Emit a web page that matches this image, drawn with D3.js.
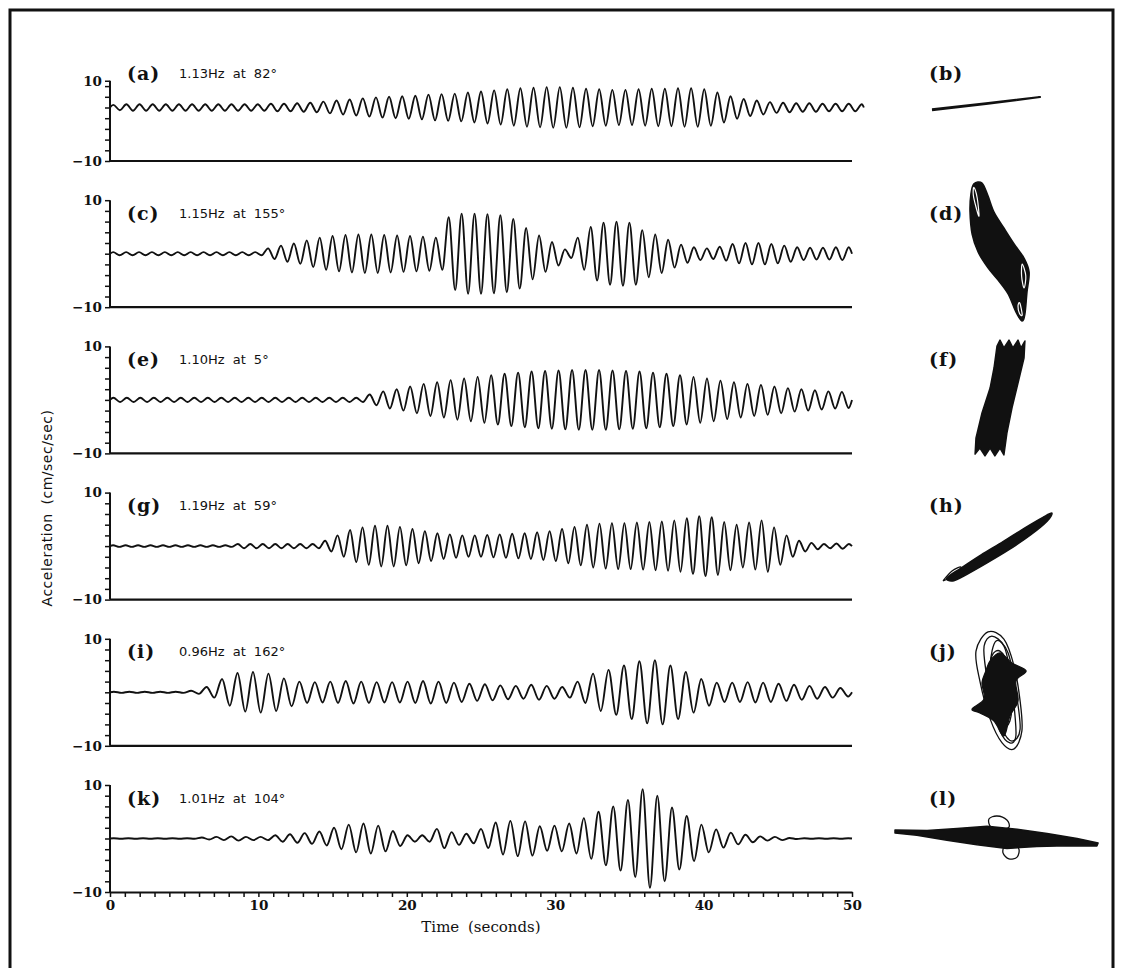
<!DOCTYPE html>
<html>
<head>
<meta charset="utf-8">
<script src="https://cdn.jsdelivr.net/npm/d3@7"></script>
<style>
  body { margin: 0; background: #fff; }
  svg text { fill: #111; }
  .lbl { font-family: "DejaVu Serif", serif; font-weight: bold; font-size: 19px; letter-spacing: 1px; }
  .hz { font-family: "DejaVu Sans", sans-serif; font-size: 13px; word-spacing: 4px; }
  .tick text { font-family: "DejaVu Serif", serif; font-weight: bold; font-size: 13.5px; }
  .tick line { stroke: #111; stroke-width: 1.5; }
  .ttl { font-family: "DejaVu Serif", serif; font-size: 15px; word-spacing: 4px; }
  .ylab { font-family: "DejaVu Sans", sans-serif; font-size: 14px; letter-spacing: 0.5px; word-spacing: 4px; }
</style>
</head>
<body>
<svg id="fig" width="1123" height="968"></svg>
<script>

// panel captions
var panelLabels = ['(a)', '(c)', '(e)', '(g)', '(i)', '(k)'];
var hodoLabels  = ['(b)', '(d)', '(f)', '(h)', '(j)', '(l)'];
var freqs    = [1.13, 1.15, 1.10, 1.19, 0.96, 1.01];
var azimuths = [82, 155, 5, 59, 162, 104];
var timeTicks = [0, 10, 20, 30, 40, 50];
var traceEnd = [50.8, 50, 50, 50, 50, 50];   // seconds
var yTopShown = [5, 10, 10, 10, 10, 10];     // axis of (a) is cut short in the source

// peak amplitude of each cycle (cm/sec/sec)
var ampA = [0.5,0.6,0.6,0.6,0.6,0.6,0.6,0.6,0.6,0.6,0.6,0.6,0.7,0.7,0.8,0.9,1.1,1.3,1.5,1.7,
            1.9,2.0,2.1,2.2,2.4,2.5,2.6,2.8,3.0,3.2,3.4,3.6,3.7,3.8,3.8,3.7,3.5,3.4,3.3,3.3,
            3.4,3.5,3.5,3.6,3.6,3.4,2.8,2.1,1.6,1.3,1.0,0.9,0.8,0.8,0.7,0.7,0.7,0.6];
var ampC = [0.3,0.3,0.3,0.3,0.3,0.3,0.3,0.3,0.3,0.3,0.3,0.3,1.0,1.5,1.9,2.5,3.0,3.3,3.5,3.6,
            3.6,3.5,3.4,3.3,3.2,3.0,6.8,7.5,7.5,7.4,7.2,6.5,4.8,3.4,2.2,0.8,3.0,5.0,5.8,6.0,
            5.8,4.4,3.6,2.6,1.7,1.2,1.0,1.3,1.8,2.0,2.0,1.8,1.5,1.2,1.1,1.1,1.2,1.2];
var ampE = [0.4,0.4,0.4,0.4,0.4,0.4,0.4,0.4,0.4,0.4,0.4,0.4,0.4,0.4,0.4,0.4,0.4,0.4,0.4,1.0,
            1.6,2.0,2.5,3.0,3.3,3.7,4.0,4.3,4.6,4.9,5.1,5.3,5.4,5.5,5.6,5.6,5.6,5.5,5.4,5.3,
            5.1,4.9,4.6,4.3,4.0,3.6,3.3,3.0,2.8,2.5,2.2,2.0,1.8,1.6,1.5,1.5];
var ampG = [0.15,0.15,0.15,0.15,0.15,0.15,0.15,0.15,0.15,0.15,0.4,0.4,0.4,0.4,0.4,0.4,0.4,1.0,2.0,3.0,
            3.5,3.8,3.8,3.6,3.2,2.8,2.4,2.2,2.0,2.0,2.1,2.2,2.3,2.4,2.6,2.8,3.2,3.6,4.0,4.2,
            4.3,4.3,4.4,4.5,4.6,4.8,5.2,5.6,5.4,4.5,4.0,4.4,4.8,3.5,2.0,1.0,0.6,0.4,0.5,0.4];
var ampI = [0.1,0.1,0.1,0.1,0.1,0.3,1.0,2.5,3.6,3.8,3.5,2.6,2.0,1.9,2.0,2.1,2.0,1.9,1.9,2.0,
            2.1,2.0,1.8,1.6,1.5,1.3,1.2,1.4,1.2,1.0,2.0,3.5,4.2,5.0,5.8,6.0,5.0,3.8,2.5,1.8,
            1.8,1.9,1.8,1.6,1.4,1.2,1.0,0.8,0.7];
var ampK = [0.05,0.05,0.05,0.05,0.05,0.05,0.2,0.3,0.4,0.3,0.3,0.6,0.8,1.0,1.3,2.0,2.6,2.8,2.4,1.4,
            0.6,0.6,1.8,1.2,0.9,1.8,3.0,3.3,3.2,2.3,2.4,2.8,3.8,5.0,6.0,7.2,9.2,8.0,5.8,4.2,
            2.6,1.7,1.1,0.7,0.4,0.3,0.1,0.05,0.05,0.05,0.05];
var amps = [ampA, ampC, ampE, ampG, ampI, ampK];

// particle motion outlines [east, north] (cm/sec/sec)
var hodoB = [[-18,-2.4],[0,-0.3],[18,2.0],[0,-0.1],[-18,-2.1]];
var hodoD = [[-8.7,22.7],[-6,23],[-4,18.7],[-2,13.3],[1.3,8],[4.7,2.7],[8,-2],[9.7,-6.7],[9,-13.3],
             [8.3,-20.7],[7.3,-23],[5.3,-20],[2.7,-14],[-0.7,-9.3],[-4,-5.3],[-7.3,0],[-9.3,6],
             [-10,13.3],[-9.7,19.3]];
var hodoDGaps = [
  [[-8.7,21.5],[-7.6,18],[-7,12],[-8,15],[-8.9,19]],
  [[7.4,-4],[8.6,-8],[8,-12],[7.2,-8]],
  [[6.6,-17],[7.4,-21],[6.5,-20.5],[6,-18]]
];
var hodoF = [[-1,17.3],[0,19.3],[1.3,16.7],[3,19.3],[4.3,16.7],[6,19.3],[7,16.7],[8.3,19],[8,13.3],
             [6,5],[4,-3.3],[2.3,-11.7],[1.3,-19],[0,-16.7],[-1.7,-19.3],[-3.3,-16.7],[-5,-19.3],
             [-6.7,-16.7],[-8.3,-18.7],[-8,-13.3],[-6,-5],[-3.3,3.3],[-2,10]];
var hodoH = [[-16.7,-10.3],[-12,-7],[-5.3,-2.6],[2,1.8],[9.3,6.4],[15.3,9.9],[18.3,11.3],[16.7,8.6],
             [11.3,4.1],[4,-0.9],[-3.3,-5.3],[-10,-9.1],[-14.7,-11.3]];
var hodoHTip = [[-18,-11.3],[-15,-8],[-12,-6.7],[-14,-9.3],[-18,-11.3]];
var hodoJCore = [[-3.3,10],[0,12.7],[4,9.3],[8.7,6.7],[5.3,3.3],[6,-3.3],[3.3,-8.3],[1.3,-15],
                 [-2,-10],[-6.7,-7.3],[-9.3,-6],[-5.3,-2.7],[-6,2.7],[-4.7,6.7]];
var hodoJLoops = [
  [[-4,19.7],[1.3,17.3],[4.7,8.3],[6.7,-3.3],[7.3,-13.3],[4.7,-19.3],[0.7,-17.3],[-3.3,-9.3],[-6.7,3.3],[-8,13.3]],
  [[-2.7,18.3],[1.3,15],[3.3,6.7],[4.7,-5],[5.3,-15],[3.3,-17.3],[0,-13.3],[-2.7,-3.3],[-4.7,6.7],[-5.3,15]],
  [[-1.3,16.7],[2.7,12.7],[5.3,0],[6.7,-12.7],[4,-16.7],[0.7,-12.7],[-2,-3.3],[-3.3,8.3]],
  [[0,13.3],[2.7,8.3],[4,-1.7],[3.3,-10],[0.7,-11.7],[-2,-5],[-3.3,5],[-2.7,11.7]]
];
var hodoL = [[-34,2.3],[-23.3,2.2],[-13.3,2.8],[-3.3,3.6],[6.7,2.6],[16.7,1.2],[26.7,-0.5],[33.7,-2],
             [33.3,-3],[23.3,-2.9],[13.3,-3.2],[3.3,-3.8],[-6.7,-2.6],[-16.7,-1.1],[-26.7,0.6],[-34,1.3]];
var hodoLLoops = [
  [[-2,3.3],[-2.7,6],[0,7],[3.3,5.7],[4,3.3],[1.3,2.7]],
  [[2.7,-2.7],[2,-5.3],[4,-7.3],[6.7,-6.7],[7.3,-4],[5.3,-2.7]]
];

var svg = d3.select('#fig');

// outer frame
svg.append('rect')
    .attr('x', 10).attr('y', 10)
    .attr('width', 1103).attr('height', 990)
    .attr('fill', 'none')
    .attr('stroke', '#111')
    .attr('stroke-width', 3);

var x = d3.scaleLinear().domain([0, 50]).range([110, 852]);
var panelH = 107, panelStep = 146.2, firstTop = 54;

function extrema(amp, f, tEnd) {
  var pts = [{ t: 0, v: 0 }];
  var half = 0.5 / f;
  for (var j = 0; ; j++) {
    var t = (j + 0.5) * half;
    if (t > tEnd) break;
    var a = amp[Math.min(Math.floor(j / 2), amp.length - 1)];
    pts.push({ t: t, v: (j % 2 ? -a : a) });
  }
  pts.push({ t: tEnd, v: 0 });
  return pts;
}

function drawPanel(i) {
  var pTop = firstTop + i * panelStep;
  var y = d3.scaleLinear().domain([-10, 10]).range([pTop + panelH, pTop]);
  var g = svg.append('g');

  // left axis
  var topVal = yTopShown[i];
  var ticks = d3.range(-10, topVal, 2).concat([topVal]);
  var yAxis = d3.axisLeft(y)
      .tickValues(ticks)
      .tickSize(5)
      .tickPadding(3)
      .tickFormat(function(d) { return d === -10 ? '\u221210' : (d === topVal ? '10' : ''); });
  var ag = g.append('g').attr('transform', 'translate(' + x(0) + ',0)').call(yAxis);
  ag.select('.domain').remove();
  g.append('line')
      .attr('x1', x(0)).attr('x2', x(0))
      .attr('y1', y(-10)).attr('y2', y(topVal))
      .attr('stroke', '#111').attr('stroke-width', 2);

  // bottom line / time axis
  if (i < 5) {
    g.append('line')
        .attr('x1', x(0)).attr('x2', x(50))
        .attr('y1', y(-10)).attr('y2', y(-10))
        .attr('stroke', '#111').attr('stroke-width', 2.2);
  } else {
    var xAxis = d3.axisBottom(x)
        .tickValues(d3.range(0, 51, 1))
        .tickSize(5)
        .tickSizeOuter(0)
        .tickFormat(function(d) { return timeTicks.indexOf(d) >= 0 ? d : ''; });
    var xg = g.append('g').attr('transform', 'translate(0,' + y(-10) + ')').call(xAxis);
    xg.select('.domain').attr('stroke', '#111').attr('stroke-width', 2.2);
    g.append('text')
        .attr('class', 'ttl')
        .attr('x', x(25)).attr('y', y(-10) + 40)
        .attr('text-anchor', 'middle')
        .text('Time (seconds)');
  }

  // trace
  var line = d3.line()
      .x(function(d) { return x(d.t); })
      .y(function(d) { return y(d.v); })
      .curve(d3.curveMonotoneX);
  g.append('path')
      .attr('d', line(extrema(amps[i], freqs[i], traceEnd[i])))
      .attr('fill', 'none')
      .attr('stroke', '#111')
      .attr('stroke-width', 1.9)
      .attr('stroke-linejoin', 'round');

  // captions
  var labY = i === 0 ? y(topVal) - 7 : pTop + 13;
  g.append('text').attr('class', 'lbl')
      .attr('x', 127).attr('y', labY).attr('dy', '0.35em')
      .text(panelLabels[i]);
  g.append('text').attr('class', 'hz')
      .attr('x', 179).attr('y', labY).attr('dy', '0.35em')
      .text(freqs[i].toFixed(2) + 'Hz at ' + azimuths[i] + '\u00b0');
  g.append('text').attr('class', 'lbl')
      .attr('x', 929).attr('y', labY).attr('dy', '0.35em')
      .text(hodoLabels[i]);
}

for (var i = 0; i < 6; i++) drawPanel(i);

svg.append('text')
    .attr('class', 'ylab')
    .attr('transform', 'translate(52,' + 508 + ') rotate(-90)')
    .attr('text-anchor', 'middle')
    .text('Acceleration (cm/sec/sec)');

// particle motion plots
var hodoCentres = [[986, 103], [1000, 252], [1000, 398], [997, 547], [1000, 691], [997, 837]];
function hodoScales(c) {
  return {
    x: d3.scaleLinear().domain([-20, 20]).range([c[0] - 60, c[0] + 60]),
    y: d3.scaleLinear().domain([-20, 20]).range([c[1] + 60, c[1] - 60])
  };
}
function drawShape(pts, c, filled, curve, width, colour) {
  var s = hodoScales(c);
  var l = d3.line()
      .x(function(d) { return s.x(d[0]); })
      .y(function(d) { return s.y(d[1]); })
      .curve(curve);
  svg.append('path')
      .attr('d', l(pts))
      .attr('fill', filled ? '#111' : 'none')
      .attr('stroke', colour || '#111')
      .attr('stroke-width', width)
      .attr('stroke-linejoin', 'round');
}

drawShape(hodoB, hodoCentres[0], false, d3.curveLinear, 2.2);
drawShape(hodoD, hodoCentres[1], true, d3.curveCardinalClosed, 1.5);
hodoDGaps.forEach(function(p) { drawShape(p, hodoCentres[1], false, d3.curveCardinalClosed, 1.2, '#fff'); });
drawShape(hodoF, hodoCentres[2], true, d3.curveLinearClosed, 1.5);
drawShape(hodoH, hodoCentres[3], true, d3.curveCardinalClosed, 1.5);
drawShape(hodoHTip, hodoCentres[3], false, d3.curveCardinal, 1.3);
hodoJLoops.forEach(function(p) { drawShape(p, hodoCentres[4], false, d3.curveCardinalClosed, 1.3); });
drawShape(hodoJCore, hodoCentres[4], true, d3.curveCardinalClosed, 1.3);
drawShape(hodoL, hodoCentres[5], true, d3.curveLinearClosed, 1.5);
hodoLLoops.forEach(function(p) { drawShape(p, hodoCentres[5], false, d3.curveCardinalClosed, 1.3); });

</script>
</body>
</html>
